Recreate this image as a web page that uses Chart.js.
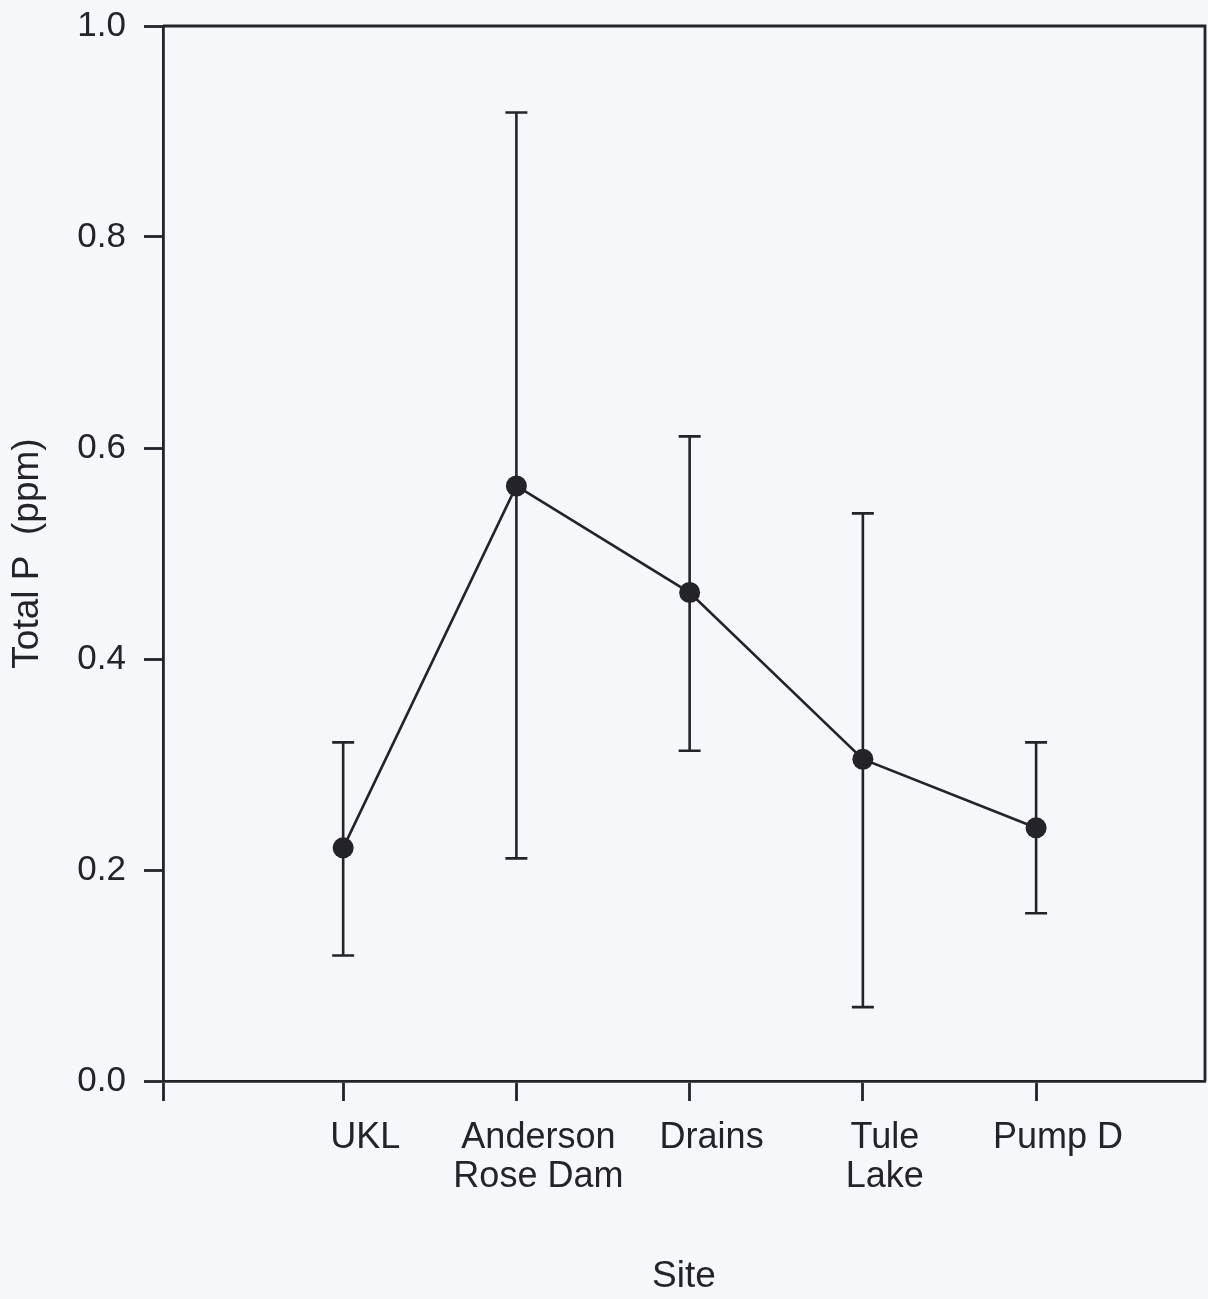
<!DOCTYPE html>
<html>
<head>
<meta charset="utf-8">
<script src="https://cdn.jsdelivr.net/npm/chart.js@4.4.1/dist/chart.umd.min.js"></script>
<style>
  html, body { margin: 0; padding: 0; background: #f6f7fa; }
  #wrap { width: 1208px; height: 1299px; }
</style>
</head>
<body>
<div id="wrap"><canvas id="c" width="1208" height="1299"></canvas></div>
<script>
// ---- data ----
const sites = [['UKL'], ['Anderson', 'Rose Dam'], ['Drains'], ['Tule', 'Lake'], ['Pump D']];
const sitePos = [1, 2, 3, 4, 5];
const meanP  = [0.221, 0.564, 0.463, 0.305, 0.240];
const upperP = [0.321, 0.918, 0.611, 0.538, 0.321];
const lowerP = [0.119, 0.211, 0.313, 0.070, 0.159];
const yTicks = [0.0, 0.2, 0.4, 0.6, 0.8, 1.0];

const INK = '#232329';
const FONT = '"Liberation Sans", Arial, sans-serif';

const points = sitePos.map((x, i) => ({ x: x, y: meanP[i] }));

const errorBars = {
  id: 'errorBars',
  beforeDatasetsDraw(chart) {
    const { ctx, scales: { x, y } } = chart;
    ctx.save();
    ctx.strokeStyle = INK;
    ctx.lineWidth = 2.6;
    const cap = 11;
    sitePos.forEach((p, i) => {
      const px = x.getPixelForValue(p);
      const pt = y.getPixelForValue(upperP[i]);
      const pb = y.getPixelForValue(lowerP[i]);
      ctx.beginPath();
      ctx.moveTo(px, pt); ctx.lineTo(px, pb);
      ctx.moveTo(px - cap, pt); ctx.lineTo(px + cap, pt);
      ctx.moveTo(px - cap, pb); ctx.lineTo(px + cap, pb);
      ctx.stroke();
    });
    ctx.restore();
  }
};

const frame = {
  id: 'frame',
  afterDraw(chart) {
    const { ctx, chartArea: a } = chart;
    ctx.save();
    ctx.strokeStyle = INK;
    ctx.lineWidth = 2.8;
    ctx.beginPath();
    ctx.moveTo(a.left, a.top); ctx.lineTo(a.right, a.top); ctx.lineTo(a.right, a.bottom);
    ctx.stroke();
    ctx.restore();
  }
};

const bg = {
  id: 'bg',
  beforeDraw(chart) {
    const { ctx, width, height } = chart;
    ctx.save();
    ctx.fillStyle = '#f6f7fa';
    ctx.fillRect(0, 0, width, height);
    ctx.restore();
  }
};

function zeroPad(s) { s.paddingLeft = 0; s.paddingRight = 0; s.paddingTop = 0; s.paddingBottom = 0; }

new Chart(document.getElementById('c'), {
  type: 'line',
  data: {
    datasets: [{
      data: points,
      borderColor: INK,
      borderWidth: 2.6,
      pointRadius: 10.5,
      pointBackgroundColor: INK,
      pointBorderColor: INK,
      pointBorderWidth: 0,
      tension: 0,
      fill: false
    }]
  },
  options: {
    responsive: false,
    animation: false,
    events: [],
    layout: { autoPadding: false, padding: { top: 26, right: 3, left: 0, bottom: 0 } },
    plugins: { legend: { display: false }, tooltip: { enabled: false } },
    scales: {
      x: {
        type: 'linear',
        min: -0.04,
        max: 5.975,
        afterFit(s) { s.height = 218; zeroPad(s); },
        afterBuildTicks(s) {
          s.ticks = [{ value: s.min }].concat(sitePos.map(v => ({ value: v })));
        },
        grid: { display: true, drawOnChartArea: false, drawTicks: true, tickLength: 20, tickWidth: 2.8, tickColor: INK },
        border: { display: true, color: INK, width: 2.8 },
        ticks: {
          color: INK,
          font: { family: FONT, size: 36, lineHeight: 1.1 },
          padding: 17,
          labelOffset: 22,
          maxRotation: 0,
          autoSkip: false,
          callback(v) {
            const i = sitePos.indexOf(v);
            return i >= 0 ? sites[i] : '';
          }
        },
        title: {
          display: true,
          text: 'Site',
          color: INK,
          font: { family: FONT, size: 37 },
          padding: { top: 0, bottom: 0 }
        }
      },
      y: {
        type: 'linear',
        min: 0,
        max: 1,
        afterFit(s) { s.width = 163; zeroPad(s); },
        afterBuildTicks(s) { s.ticks = yTicks.map(v => ({ value: v })); },
        grid: { display: true, drawOnChartArea: false, drawTicks: true, tickLength: 19, tickWidth: 2.8, tickColor: INK },
        border: { display: true, color: INK, width: 2.8 },
        ticks: {
          color: INK,
          font: { family: FONT, size: 35 },
          padding: 18,
          callback(v) { return Number(v).toFixed(1); }
        },
        title: {
          display: true,
          text: 'Total P  (ppm)',
          color: INK,
          font: { family: FONT, size: 37 },
          padding: { top: 6, bottom: 0 }
        }
      }
    }
  },
  plugins: [bg, errorBars, frame]
});
</script>
</body>
</html>
